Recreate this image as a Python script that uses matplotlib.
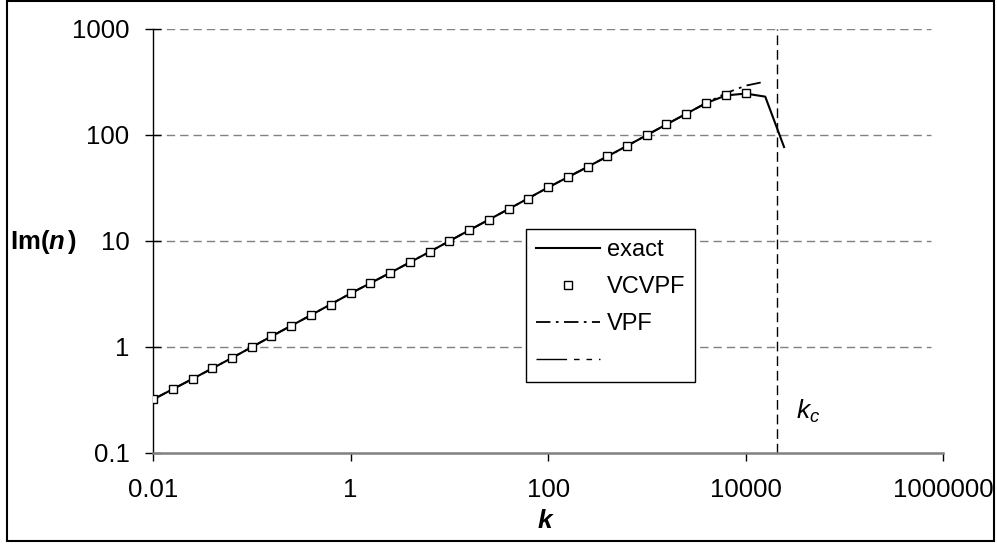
import numpy as np
import matplotlib
matplotlib.use("Agg")
import matplotlib.pyplot as plt
from matplotlib.lines import Line2D
from matplotlib.patches import Rectangle

plt.rcParams['font.family'] = ['Liberation Sans', 'DejaVu Sans']
plt.rcParams['mathtext.fontset'] = 'custom'
plt.rcParams['mathtext.rm'] = 'Liberation Sans'
plt.rcParams['mathtext.it'] = 'Liberation Sans:italic'
plt.rcParams['mathtext.bf'] = 'Liberation Sans:bold'
plt.rcParams['mathtext.bfit'] = 'Liberation Sans:bold:italic'

# VCVPF squares
k_sq = [0.01, 0.0158, 0.0251, 0.0398, 0.0631, 0.1, 0.158, 0.251, 0.398, 0.631,
        1, 1.58, 2.51, 3.98, 6.31, 10, 15.8, 25.1, 39.8, 63.1,
        100, 158, 251, 398, 631, 1000, 1580, 2510, 3980, 6310, 10000]
im_sq = [0.32, 0.40, 0.50, 0.63, 0.79, 1.0, 1.26, 1.58, 2.0, 2.5,
         3.2, 4.0, 5.0, 6.3, 7.9, 10, 12.6, 15.8, 20, 25,
         32, 40, 50, 63, 79, 100, 126, 158, 200, 238, 249]

# exact solution
k_exact = [0.01, 0.0251, 0.0631, 0.158, 0.398, 1, 2.51, 6.31, 15.8, 39.8,
           100, 251, 631, 1580, 3980, 6310, 10000, 15800, 24500]
im_exact = [0.32, 0.50, 0.79, 1.26, 2.0, 3.2, 5.0, 7.9, 12.6, 20,
            32, 50, 79, 126, 200, 236, 246, 230, 77]

# VPF
k_vpf = [0.01, 0.0251, 0.0631, 0.158, 0.398, 1, 2.51, 6.31, 15.8, 39.8,
         100, 251, 631, 1580, 3980, 6310, 10000, 14800]
im_vpf = [0.32, 0.50, 0.79, 1.26, 2.0, 3.2, 5.0, 7.9, 12.6, 20,
          32, 50, 79, 126, 200, 248, 292, 315]

k_c = 21000

x_ticks = [0.01, 1, 100, 10000, 1000000]
x_labels = ["0.01", "1", "100", "10000", "1000000"]
y_ticks = [0.1, 1, 10, 100, 1000]
y_labels = ["0.1", "1", "10", "100", "1000"]

fig = plt.figure(figsize=(9.97, 5.44), dpi=100)
ax = fig.add_axes([0.1535, 0.1673, 0.7925, 0.7794])

ax.set_xscale('log')
ax.set_yscale('log')
ax.set_xlim(0.01, 1000000)
ax.set_ylim(0.1, 1000)

for yv in y_ticks[1:]:
    ax.axhline(yv, xmax=0.985, color='#808080', lw=1.0, linestyle=(0, (6, 3.6)), zorder=1)

ax.plot(k_exact, im_exact, color='black', lw=1.5, zorder=3)
ax.plot(k_vpf, im_vpf, color='black', lw=1.3, linestyle=(0, (8, 3, 1.5, 3)), zorder=3)
ax.plot(k_sq, im_sq, linestyle='none', marker='s', markersize=6.3,
        markerfacecolor='white', markeredgecolor='black', markeredgewidth=1.0, zorder=4)
ax.axvline(k_c, color='black', lw=1.0, linestyle=(0, (7, 3.5)), zorder=2)

ax.text(32000, 0.21, r'$k_c$', fontsize=19, ha='left', va='baseline')

ax.set_xticks(x_ticks)
ax.set_xticklabels(x_labels)
ax.set_yticks(y_ticks)
ax.set_yticklabels(y_labels)
ax.minorticks_off()
ax.tick_params(axis='x', direction='out', length=6, width=1, pad=12,
               labelsize=18.5, color='black')
ax.tick_params(axis='y', direction='inout', length=12, width=1, pad=11,
               labelsize=18.5, color='black')

for s in ['top', 'right']:
    ax.spines[s].set_visible(False)
ax.spines['left'].set_color('black')
ax.spines['left'].set_linewidth(1.0)
ax.spines['bottom'].set_color('#808080')
ax.spines['bottom'].set_linewidth(1.8)

handles = [
    Line2D([], [], color='black', lw=1.5),
    Line2D([], [], linestyle='none', marker='s', markersize=6.3,
           markerfacecolor='white', markeredgecolor='black', markeredgewidth=1.0),
    Line2D([], [], color='black', lw=1.3, linestyle=(0, (8, 3, 1.5, 3))),
    Line2D([], [], color='black', lw=1.0, linestyle=(0, (22, 5, 4, 5, 4, 5, 4, 5))),
]
labels = ["exact", "VCVPF", "VPF", ""]
leg = ax.legend(handles, labels, loc='upper left', bbox_to_anchor=(0.472, 0.528),
                borderaxespad=0, fontsize=17, frameon=True, fancybox=False,
                edgecolor='black', framealpha=1, handlelength=2.7,
                handletextpad=0.3, labelspacing=0.64, borderpad=0.42)
leg.get_frame().set_linewidth(1.0)

fig.text(10 / 997, 1 - 242 / 544, r'$\mathbf{Im(}\mathbfit{n}\,\mathbf{)}$',
         fontsize=18.5, ha='left', va='center')
fig.text(545 / 997, 1 - 521 / 544, 'k', fontsize=19, fontweight='bold',
         fontstyle='italic', ha='center', va='center')

fig.patches.append(Rectangle((0.007, 0.0055), 0.99, 0.9925, transform=fig.transFigure,
                             fill=False, edgecolor='black', lw=1.5))

fig.savefig("out.png", dpi=100)
